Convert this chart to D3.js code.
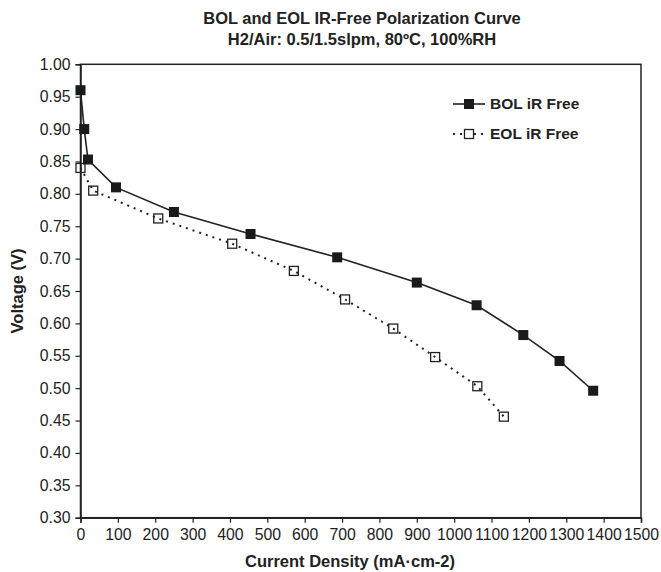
<!DOCTYPE html>
<html>
<head>
<meta charset="utf-8">
<script src="https://cdn.jsdelivr.net/npm/d3@7"></script>
<style>
body{margin:0;background:#fff;}
svg{font-family:"Liberation Sans",Arial,sans-serif;}
</style>
</head>
<body>
<script>
// BOL / EOL iR-free polarization data
let bolX=[0,10,20,95,250,455,687,900,1060,1185,1282,1372];
let bolY=[0.960,0.900,0.853,0.810,0.772,0.738,0.702,0.663,0.628,0.582,0.542,0.496];
let eolX=[0,34,208,406,571,708,837,949,1062,1133];
let eolY=[0.840,0.805,0.762,0.723,0.681,0.637,0.592,0.548,0.503,0.456];
let xTicks=d3.range(0,1501,100);
let yTicks=d3.range(0.30,1.0001,0.05);
let titles=["BOL and EOL IR-Free Polarization Curve","H2/Air: 0.5/1.5slpm, 80ºC, 100%RH"];
let legendNames=["BOL iR Free","EOL iR Free"];

let w=661,h=572;
let m={l:80.5,r:20,t:64.3,b:54.3};

let svg=d3.select("body").append("svg").attr("width",w).attr("height",h);

let x=d3.scaleLinear().domain([0,1500]).range([m.l,w-m.r]);
let y=d3.scaleLinear().domain([0.30,1.00]).range([h-m.b,m.t]);

// frame
svg.append("rect").attr("x",m.l).attr("y",m.t).attr("width",w-m.r-m.l).attr("height",h-m.b-m.t)
  .attr("fill","none").attr("stroke","#222").attr("stroke-width",1.5);

let xAxis=svg.append("g").attr("transform","translate(0,"+(h-m.b)+")")
  .call(d3.axisBottom(x).tickValues(xTicks).tickSize(5).tickPadding(6).tickFormat(d3.format("d")));
let yAxis=svg.append("g").attr("transform","translate("+m.l+",0)")
  .call(d3.axisLeft(y).tickValues(yTicks).tickSize(5).tickPadding(5).tickFormat(d3.format(".2f")));
[xAxis,yAxis].forEach(a=>{
  a.select(".domain").attr("stroke","#222").attr("stroke-width",1.5);
  a.selectAll(".tick line").attr("stroke","#222").attr("stroke-width",1.2);
  a.selectAll("text").style("font-size","15.8px").attr("fill","#222");
});

// titles
titles.forEach((t,i)=>{
  svg.append("text").text(t).attr("x",362).attr("y",24+i*21).attr("text-anchor","middle")
    .style("font-size","16.5px").style("font-weight","bold").attr("fill","#222");
});
svg.append("text").text("Current Density (mA·cm-2)").attr("x",350).attr("y",567)
  .attr("text-anchor","middle").style("font-size","16.5px").style("font-weight","bold").attr("fill","#222");
svg.append("text").text("Voltage (V)").attr("transform","translate(23,291) rotate(-90)")
  .attr("text-anchor","middle").style("font-size","16.5px").style("font-weight","bold").attr("fill","#222");

let line=d3.line().x(d=>x(d[0])).y(d=>y(d[1]));
let bol=bolX.map((v,i)=>[v,bolY[i]]);
let eol=eolX.map((v,i)=>[v,eolY[i]]);

svg.append("path").datum(eol).attr("d",line).attr("fill","none").attr("stroke","#222")
  .attr("stroke-width",2).attr("stroke-dasharray","2,5");
svg.append("path").datum(bol).attr("d",line).attr("fill","none").attr("stroke","#222").attr("stroke-width",1.6);

svg.selectAll(".eol").data(eol).enter().append("rect")
  .attr("x",d=>x(d[0])-4.5).attr("y",d=>y(d[1])-4.5).attr("width",9).attr("height",9)
  .attr("fill","none").attr("stroke","#222").attr("stroke-width",1.3);
svg.selectAll(".bol").data(bol).enter().append("rect")
  .attr("x",d=>x(d[0])-5).attr("y",d=>y(d[1])-5).attr("width",10).attr("height",10)
  .attr("fill","#1a1a1a");

// legend
let lg=svg.append("g");
let lx=453,ly=[104,134];
lg.append("line").attr("x1",lx).attr("x2",lx+32).attr("y1",ly[0]).attr("y2",ly[0]).attr("stroke","#222").attr("stroke-width",1.6);
lg.append("rect").attr("x",lx+11).attr("y",ly[0]-5).attr("width",10).attr("height",10).attr("fill","#1a1a1a");
lg.append("line").attr("x1",lx).attr("x2",lx+32).attr("y1",ly[1]).attr("y2",ly[1]).attr("stroke","#222")
  .attr("stroke-width",2).attr("stroke-dasharray","2,5");
lg.append("rect").attr("x",lx+11.5).attr("y",ly[1]-4.5).attr("width",9).attr("height",9).attr("fill","#fff").attr("stroke","#222").attr("stroke-width",1.3);
legendNames.forEach((n,i)=>{
  lg.append("text").text(n).attr("x",lx+37).attr("y",ly[i]+5).style("font-size","15.5px")
    .style("font-weight","bold").attr("fill","#222");
});
</script>
</body>
</html>
